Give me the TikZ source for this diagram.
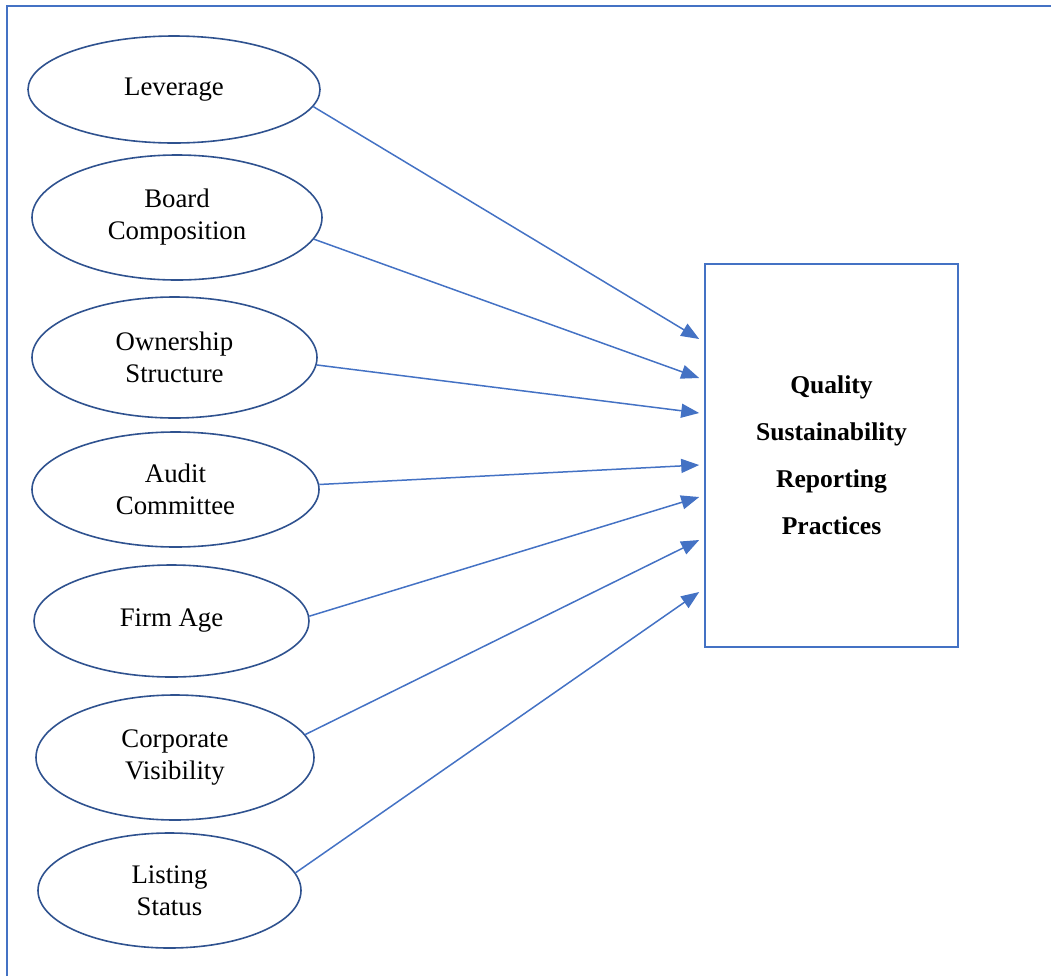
\documentclass[tikz,border=0pt]{standalone}
\usepackage{fontspec}
\setmainfont{Liberation Serif}
\usetikzlibrary{shapes.geometric,arrows.meta,calc}
\definecolor{ovalblue}{RGB}{47,82,143}
\definecolor{arrowblue}{RGB}{68,114,196}

\begin{document}
\begin{tikzpicture}[x=0.5pt, y=-0.5pt, >={Triangle[length=9pt,width=7pt]},
    var/.style={ellipse, draw=ovalblue, line width=0.8pt, inner sep=0pt, align=center,
        font=\fontsize{13.4}{16}\selectfont},
    dv/.style={draw=arrowblue, line width=0.8pt, align=center,
        font=\fontsize{12.8}{23.5}\selectfont\bfseries},
    link/.style={->, arrowblue, line width=0.75pt}]
    \useasboundingbox (0,0) rectangle (1051,976);

    % 1. 外框 (只有上边和左边)
    \draw[arrowblue, line width=1pt] (7,976) -- (7,5.5) -- (1051,5.5);

    % 2. 左侧的自变量椭圆
    \node[var, minimum width=146pt, minimum height=53.5pt] (lev) at (174,89.5) {Leverage};
    \node[var, minimum width=145pt, minimum height=62.5pt] (board) at (177,217.5) {Board\\Composition};
    \node[var, minimum width=142.5pt, minimum height=60.5pt] (own) at (174.5,357.5) {Ownership\\Structure};
    \node[var, minimum width=143.5pt, minimum height=57.5pt] (audit) at (175.5,489.5) {Audit\\Committee};
    \node[var, minimum width=137.5pt, minimum height=56pt] (age) at (171.5,621) {Firm Age};
    \node[var, minimum width=139pt, minimum height=62.5pt] (vis) at (175,757.5) {Corporate\\Visibility};
    \node[var, minimum width=131.5pt, minimum height=57.5pt] (list) at (169.5,890.5) {Listing\\Status};

    % 3. 右侧的因变量方框
    \node[dv, minimum width=126.5pt, minimum height=191.5pt] (qsr) at (831.5,455.5)
        {Quality\\Sustainability\\Reporting\\Practices};

    % 4. 箭头 (终点在方框左边稍外)
    \draw[link] (lev.-7) -- ($(qsr.west)+(-5,-116.5)$);
    \draw[link] (board.-9) -- ($(qsr.west)+(-5,-77.5)$);
    \draw[link] (own.-3) -- ($(qsr.west)+(-5,-42.5)$);
    \draw[link] (audit.2) -- ($(qsr.west)+(-5,9.5)$);
    \draw[link] (age.2.5) -- ($(qsr.west)+(-5,41.5)$);
    \draw[link] (vis.10) -- ($(qsr.west)+(-5,84.5)$);
    \draw[link] (list.8) -- ($(qsr.west)+(-5,136.5)$);
\end{tikzpicture}
\end{document}
